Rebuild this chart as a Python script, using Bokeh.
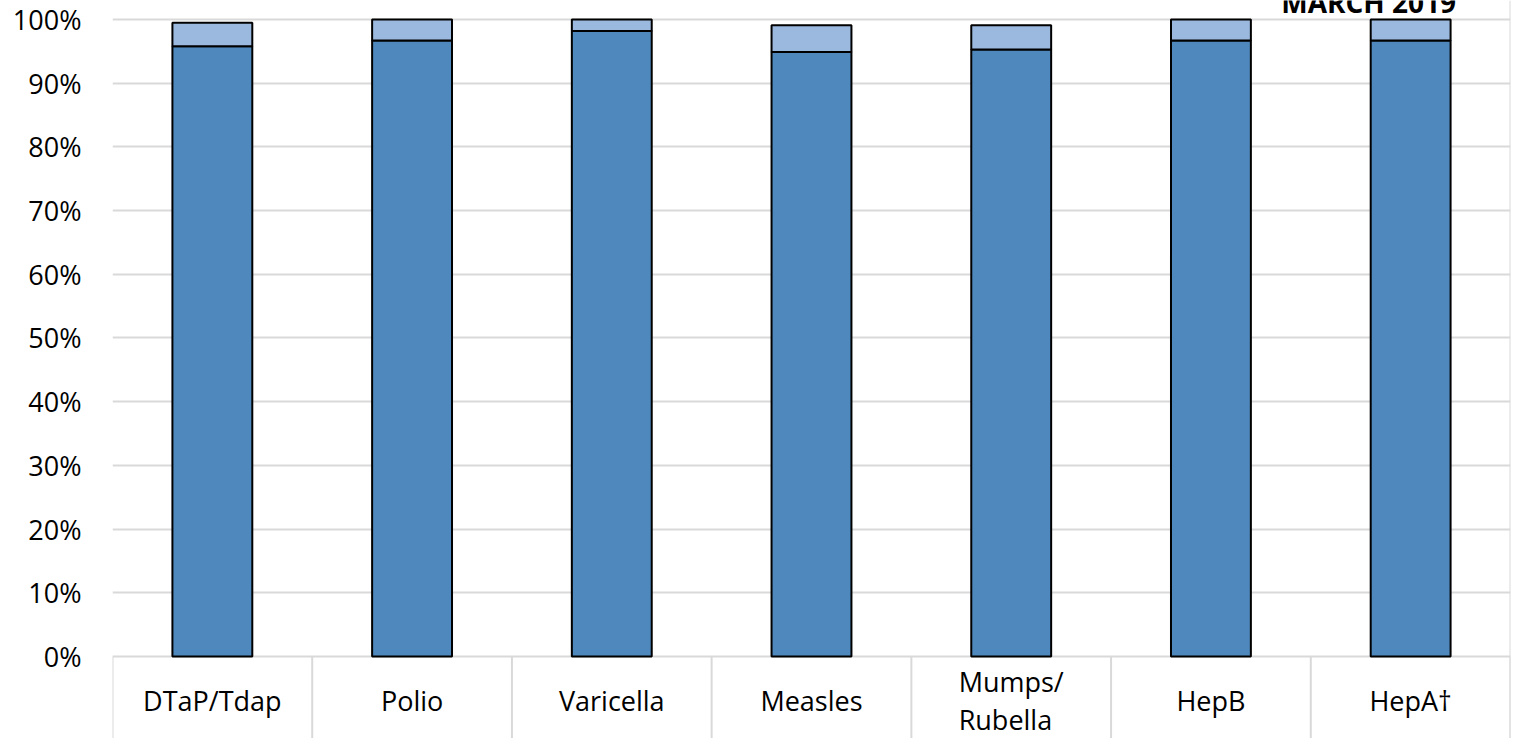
import numpy as np
from bokeh.plotting import figure
from bokeh.models import (ColumnDataSource, Range1d, FixedTicker, PrintfTickFormatter,
                          LabelSet, Label, Span)
from bokeh.embed import file_html
from bokeh.resources import INLINE
from bokeh.core.properties import value

# ---- data ----
categories = ["DTaP/Tdap", "Polio", "Varicella", "Measles", "Mumps/\nRubella", "HepB", "HepA\u2020"]
up_to_date = [95.8, 96.7, 98.2, 94.9, 95.3, 96.7, 96.7]      # dark blue segment (%)
remainder = [3.7, 3.3, 1.8, 4.2, 3.8, 3.3, 3.3]              # light blue segment (%)
y_ticks = [0, 10, 20, 30, 40, 50, 60, 70, 80, 90, 100]
title_text = "MARCH 2019"

# ---- styles / layout ----
DARK = "#4F88BC"
LIGHT = "#9BB9DF"
GRID = "#D9D9D9"
FONT = "Open Sans"
FS = "27px"
Y_LO, Y_HI = -12.87, 102.98      # frame covers the category cells and the title strip
LABEL_Y = -6.9                   # centre line of the category cells
TITLE_X, TITLE_Y = 6.29, 102.8

n = len(categories)
xs = np.arange(n) + 0.5
bounds = np.arange(n + 1)
tops = np.add(up_to_date, remainder)

src = ColumnDataSource(dict(x=xs, cat=categories, cov=up_to_date, total=tops))

p = figure(width=1515, height=738, x_range=Range1d(0, n), y_range=Range1d(Y_LO, Y_HI),
           output_backend="svg", toolbar_location=None, x_axis_location=None,
           min_border_left=112, min_border_right=5, min_border_top=0, min_border_bottom=0)
p.outline_line_color = None
p.background_fill_color = "white"
p.border_fill_color = "white"

# y axis
p.yaxis.ticker = FixedTicker(ticks=y_ticks, minor_ticks=[])
p.yaxis.formatter = PrintfTickFormatter(format="%d%%")
p.yaxis.axis_line_color = None
p.yaxis.major_tick_line_color = None
p.yaxis.minor_tick_line_color = None
p.yaxis.major_tick_out = 0
p.yaxis.major_tick_in = 0
p.yaxis.major_label_standoff = 31
p.yaxis.major_label_text_font = FONT
p.yaxis.major_label_text_font_size = FS
p.yaxis.major_label_text_color = "black"

p.ygrid.ticker = FixedTicker(ticks=y_ticks, minor_ticks=[])
p.ygrid.grid_line_color = GRID
p.ygrid.grid_line_width = 2
p.xgrid.visible = False

# category cell dividers below the 0% line and the right border
p.segment(x0=bounds, y0=0, x1=bounds, y1=Y_LO, line_color=GRID, line_width=2)
p.add_layout(Span(location=n, dimension="height", line_color=GRID, line_width=2))

# bars
p.vbar(x="x", width=0.4, bottom=0, top="cov", source=src,
       fill_color=DARK, line_color="black", line_width=2)
p.vbar(x="x", width=0.4, bottom="cov", top="total", source=src,
       fill_color=LIGHT, line_color="black", line_width=2)

# category labels
p.add_layout(LabelSet(x="x", y=LABEL_Y, text="cat", source=src,
                      text_align="center", text_baseline="middle",
                      text_font=value(FONT), text_font_size=FS, text_color="black",
                      text_line_height=1.05))

# title (partly cut off at the top, as in the reference)
p.add_layout(Label(x=TITLE_X, y=TITLE_Y, text=title_text, text_align="center",
                   text_baseline="alphabetic", text_font=FONT,
                   text_font_style="bold", text_font_size="28px", text_color="black"))

open("out.html", "w").write(file_html(p, INLINE))
